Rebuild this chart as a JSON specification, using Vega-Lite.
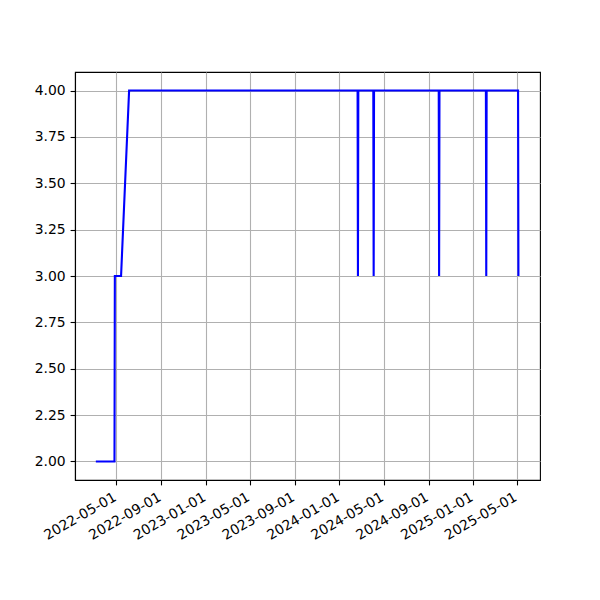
{
  "$schema": "https://vega.github.io/schema/vega-lite/v6.json",
  "width": 465,
  "height": 408,
  "autosize": {"type": "none"},
  "padding": {"left": 75, "top": 72, "right": 60, "bottom": 120},
  "background": "white",
  "config": {
    "font": "DejaVu Sans",
    "view": {"stroke": "black", "strokeWidth": 1.1},
    "axis": {
      "labelFont": "DejaVu Sans",
      "labelFontSize": 13.9,
      "labelColor": "black",
      "tickColor": "black",
      "tickSize": 4.9,
      "tickWidth": 1.1,
      "domainColor": "black",
      "domainWidth": 1.1,
      "gridColor": "#b0b0b0",
      "gridWidth": 1.1,
      "labelPadding": 4.9,
      "title": null
    }
  },
  "data": {
    "values": [
      {"date": "2022-03-06", "value": 2},
      {"date": "2022-04-26", "value": 2},
      {"date": "2022-04-27", "value": 3},
      {"date": "2022-05-14", "value": 3},
      {"date": "2022-06-05", "value": 4},
      {"date": "2024-02-20", "value": 4},
      {"date": "2024-02-21", "value": 3},
      {"date": "2024-02-22", "value": 4},
      {"date": "2024-04-03", "value": 4},
      {"date": "2024-04-04", "value": 3},
      {"date": "2024-04-05", "value": 4},
      {"date": "2024-09-29", "value": 4},
      {"date": "2024-09-30", "value": 3},
      {"date": "2024-10-01", "value": 4},
      {"date": "2025-02-05", "value": 4},
      {"date": "2025-02-06", "value": 3},
      {"date": "2025-02-07", "value": 4},
      {"date": "2025-05-04", "value": 4},
      {"date": "2025-05-05", "value": 3}
    ]
  },
  "mark": {"type": "line", "color": "#0000ff", "strokeWidth": 2.1, "clip": true},
  "encoding": {
    "x": {
      "field": "date",
      "type": "temporal",
      "scale": {
        "type": "utc",
        "domain": [
          {"year": 2022, "month": 1, "date": 8, "utc": true},
          {"year": 2025, "month": 7, "date": 3, "utc": true}
        ]
      },
      "axis": {
        "format": "%Y-%m-%d",
        "labelAngle": -30,
        "labelAlign": "right",
        "labelBaseline": "top",
        "labelOverlap": false,
        "labelOffset": -5,
        "values": [
          {"year": 2022, "month": 5, "date": 1, "utc": true},
          {"year": 2022, "month": 9, "date": 1, "utc": true},
          {"year": 2023, "month": 1, "date": 1, "utc": true},
          {"year": 2023, "month": 5, "date": 1, "utc": true},
          {"year": 2023, "month": 9, "date": 1, "utc": true},
          {"year": 2024, "month": 1, "date": 1, "utc": true},
          {"year": 2024, "month": 5, "date": 1, "utc": true},
          {"year": 2024, "month": 9, "date": 1, "utc": true},
          {"year": 2025, "month": 1, "date": 1, "utc": true},
          {"year": 2025, "month": 5, "date": 1, "utc": true}
        ]
      }
    },
    "y": {
      "field": "value",
      "type": "quantitative",
      "scale": {"domain": [1.9, 4.1], "nice": false, "zero": false},
      "axis": {
        "format": ".2f",
        "values": [2, 2.25, 2.5, 2.75, 3, 3.25, 3.5, 3.75, 4]
      }
    }
  }
}
